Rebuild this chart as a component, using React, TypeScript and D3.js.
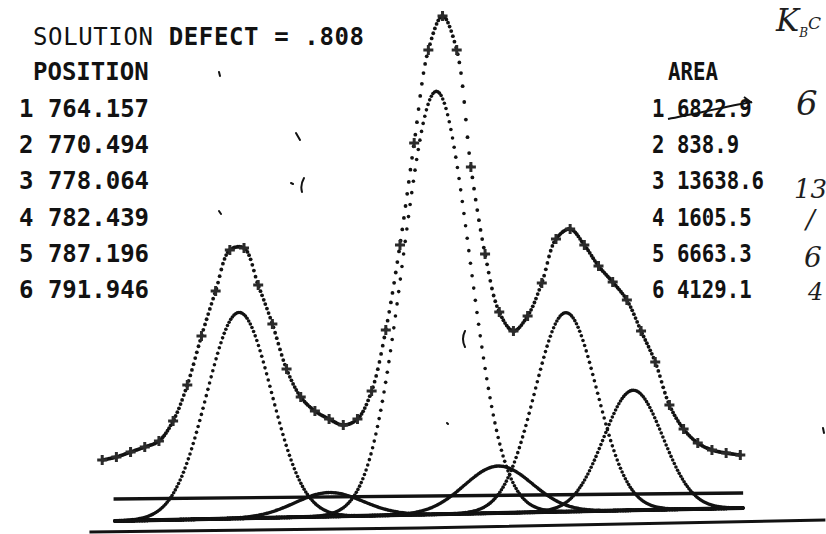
import React, { useEffect, useRef } from 'react';
import * as d3 from 'd3';

// fitted peaks as printed
const peakPositions = [764.157, 770.494, 778.064, 782.439, 787.196, 791.946];
const peakAreas = [6822.9, 838.9, 13638.6, 1605.5, 6663.3, 4129.1];
// heights above the lower baseline (counts) and gaussian widths
const peakHeights = [206, 24, 423, 47, 199, 120];
const peakWidths = [2.29, 2.4, 2.35, 2.4, 2.19, 2.09];

const solutionDefect = '.808';

// measured spectrum (the crosses)
const spectrumEnergy = [
  754.5, 755.5, 756.5, 757.5, 758.5, 759.5, 760.5, 761.5, 762.5, 763.5,
  764.5, 765.5, 766.5, 767.5, 768.5, 769.5, 770.5, 771.5, 772.5, 773.5,
  774.5, 775.5, 776.5, 777.5, 778.5, 779.5, 780.5, 781.5, 782.5, 783.5,
  784.5, 785.5, 786.5, 787.5, 788.5, 789.5, 790.5, 791.5, 792.5, 793.5,
  794.5, 795.5, 796.5, 797.5, 798.5, 799.5,
];
const spectrumCounts = [
  61, 64, 69, 74, 80, 100, 136, 185, 230, 271,
  273, 236, 197, 152, 124, 110, 102, 96, 102, 130,
  191, 276, 378, 471, 505, 471, 354, 267, 209, 190,
  205, 238, 282, 292, 276, 255, 239, 221, 190, 159,
  116, 92, 78, 71, 68, 66,
];

// straight rules drawn under the peaks [energy, counts]
const lowerBaseline = [[755.4, 0], [799.7, 13]];
const upperBaseline = [[755.3, 22], [799.7, 28]];
const bottomRule = [[753.6, -11], [776.9, -7], [805.5, 1]];

export default function App() {
  const svgRef = useRef<SVGSVGElement>(null);

  useEffect(() => {
    document.body.style.margin = '0';
    const width = 826;
    const height = 534;
    const ink = '#121212';

    const svg = d3
      .select(svgRef.current)
      .attr('width', width)
      .attr('height', height)
      .attr('viewBox', [0, 0, width, height].join(' '));
    svg.selectAll('*').remove();
    svg.append('rect').attr('width', width).attr('height', height).attr('fill', '#fff');

    const x = d3.scaleLinear().domain([750, 800]).range([38.4, 747.4]);
    const y = d3.scaleLinear().domain([0, 500]).range([521, 21]);
    const baseAt = d3
      .scaleLinear()
      .domain(lowerBaseline.map((d) => d[0]))
      .range(lowerBaseline.map((d) => d[1]));

    // rules
    const rule = d3
      .line<number[]>()
      .x((d) => x(d[0]))
      .y((d) => y(d[1]));
    const rules: [number[][], number][] = [
      [lowerBaseline, 4],
      [upperBaseline, 3.4],
      [bottomRule, 3],
    ];
    rules.forEach(([pts, w]) => {
      svg
        .append('path')
        .attr('d', rule(pts))
        .attr('fill', 'none')
        .attr('stroke', ink)
        .attr('stroke-width', w);
    });

    // component curves, one dot per channel
    const channelStep = 0.115;
    const channels = d3.range(lowerBaseline[0][0], lowerBaseline[1][0], channelStep);
    peakPositions.forEach((c, i) => {
      svg
        .append('g')
        .selectAll('circle')
        .data(channels)
        .join('circle')
        .attr('cx', (e) => x(e))
        .attr('cy', (e) =>
          y(baseAt(e) + peakHeights[i] * Math.exp(-0.5 * ((e - c) / peakWidths[i]) ** 2))
        )
        .attr('r', 1.8)
        .attr('fill', ink);
    });

    // fit through the spectrum, dotted at the channel spacing
    const fitLine = d3
      .line<number>()
      .x((d, i) => x(spectrumEnergy[i]))
      .y((d) => y(d))
      .curve(d3.curveCatmullRom.alpha(0.5));
    const guide = svg
      .append('path')
      .attr('d', fitLine(spectrumCounts))
      .attr('fill', 'none')
      .attr('stroke', 'none');
    const node = guide.node() as SVGPathElement;
    const len = node.getTotalLength();
    const stepX = x(channelStep) - x(0);
    const fitDots: [number, number][] = [];
    let nextX = x(spectrumEnergy[0]);
    for (let l = 0; l <= len; l += 0.3) {
      const p = node.getPointAtLength(l);
      if (p.x >= nextX) {
        fitDots.push([p.x, p.y]);
        nextX += stepX;
      }
    }
    svg
      .append('g')
      .selectAll('circle')
      .data(fitDots)
      .join('circle')
      .attr('cx', (d) => d[0])
      .attr('cy', (d) => d[1])
      .attr('r', 1.9)
      .attr('fill', ink);

    // data crosses
    svg
      .append('g')
      .selectAll('path')
      .data(spectrumCounts)
      .join('path')
      .attr('d', (d, i) => {
        const cx = x(spectrumEnergy[i]);
        const cy = y(d);
        return `M${cx - 5},${cy}h10M${cx},${cy - 5}v10`;
      })
      .attr('stroke', '#2b2b2b')
      .attr('stroke-width', 3);

    // printed text
    const txt = svg
      .append('g')
      .attr('font-family', '"DejaVu Sans Mono", monospace')
      .attr('font-size', 24)
      .attr('font-weight', 'bold')
      .attr('fill', ink);

    const title = txt
      .append('text')
      .attr('x', 33)
      .attr('y', 45)
      .attr('textLength', 331)
      .attr('lengthAdjust', 'spacing');
    title.append('tspan').attr('font-weight', 'normal').text('SOLUTION ');
    title.append('tspan').text(`DEFECT = ${solutionDefect}`);

    txt.append('text').attr('x', 33).attr('y', 80).text('POSITION');
    txt
      .append('text')
      .attr('x', 668)
      .attr('y', 80)
      .attr('textLength', 50)
      .attr('lengthAdjust', 'spacingAndGlyphs')
      .text('AREA');

    const rowY = (i: number) => 117 + i * 36.2;
    txt
      .selectAll('text.pos')
      .data(peakPositions)
      .join('text')
      .attr('class', 'pos')
      .attr('x', 19)
      .attr('y', (d, i) => rowY(i))
      .text((d, i) => `${i + 1} ${d.toFixed(3)}`);

    txt
      .selectAll('text.area')
      .data(peakAreas)
      .join('text')
      .attr('class', 'area')
      .attr('x', 652)
      .attr('y', (d, i) => rowY(i))
      .attr('textLength', (d, i) => `${i + 1} ${d.toFixed(1)}`.length * 12.45)
      .attr('lengthAdjust', 'spacingAndGlyphs')
      .text((d, i) => `${i + 1} ${d.toFixed(1)}`);

    // hand-written notes
    const hand = svg
      .append('g')
      .attr('font-family', '"DejaVu Serif", serif')
      .attr('font-style', 'italic')
      .attr('fill', '#1e1e1e');
    const kb = hand.append('text').attr('x', 776).attr('y', 31);
    kb.append('tspan').attr('font-size', 31).text('K');
    kb.append('tspan').attr('font-size', 12).attr('dy', 6).text('B');
    kb.append('tspan').attr('font-size', 17).attr('dy', -8).text('C');
    hand.append('text').attr('x', 796).attr('y', 115).attr('font-size', 34).text('6');
    hand.append('text').attr('x', 794).attr('y', 198).attr('font-size', 26).text('13');
    hand.append('text').attr('x', 806).attr('y', 228).attr('font-size', 26).text('/');
    hand.append('text').attr('x', 804).attr('y', 267).attr('font-size', 28).text('6');
    hand.append('text').attr('x', 808).attr('y', 300).attr('font-size', 24).text('4');

    svg
      .append('path')
      .attr('d', 'M668,119 C695,114 728,106 752,102 M744,97 L752,103')
      .attr('fill', 'none')
      .attr('stroke', ink)
      .attr('stroke-width', 2);

    // specks from the copy
    svg
      .append('path')
      .attr(
        'd',
        'M219,72l1,4 M296,133l4,7 M291,183l2,1 M304,178q-4,7,-2,14 M219,211l2,3 M465,331q-4,8,0,16 M447,423l1,1 M823,428l1,5'
      )
      .attr('fill', 'none')
      .attr('stroke', ink)
      .attr('stroke-width', 2)
      .attr('stroke-linecap', 'round');
  }, []);

  return (
    <div>
      <svg ref={svgRef} style={{ display: 'block' }}></svg>
    </div>
  );
}
